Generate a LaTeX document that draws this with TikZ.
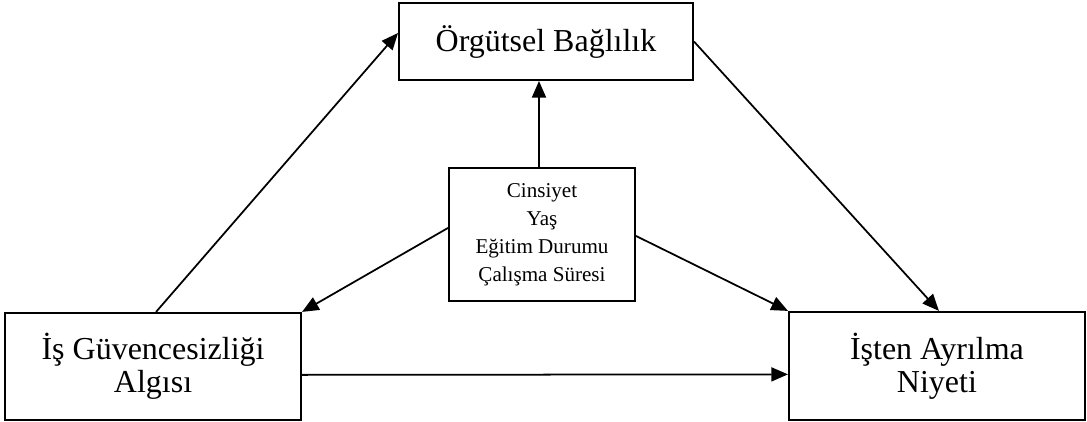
\documentclass[tikz,border=0pt]{standalone}
\usepackage{fontspec}
\setmainfont{Liberation Serif}
\usepackage{tikz}
\usetikzlibrary{positioning,arrows.meta}

\tikzset{
  kutu/.style={draw, line width=1.1pt, align=center, text centered, inner sep=2pt},
  buyuk/.style={kutu, minimum width=5.92cm, font=\fontsize{18.2}{18.8}\selectfont},
  kucuk/.style={kutu, minimum width=3.72cm, minimum height=2.66cm, font=\fontsize{12}{15.9}\selectfont},
  ok/.style={-{Triangle[length=9.5pt,width=8pt]}, line width=1pt}
}

\begin{document}
\begin{tikzpicture}
\useasboundingbox (-10.92,0.83) rectangle (10.82,-7.59);
% nodes %

\node[buyuk, minimum width=5.88cm, minimum height=1.54cm] (bag) at (0,0) {Örgütsel Bağlılık};
\node[kucuk, below = 1.72cm of bag, xshift=-0.08cm] (kontrol) {Cinsiyet\\Yaş\\Eğitim Durumu\\Çalışma Süresi};
\node[buyuk, minimum height=2.14cm, below left = 0.2cm and 2.92cm of kontrol] (guv) {İş Güvencesizliği\\Algısı};
\node[buyuk, minimum height=2.16cm, below right = 0.18cm and 3.04cm of kontrol] (ayr) {İşten Ayrılma\\Niyeti};

% edges %
\draw[ok] ([xshift=0.06cm]guv.north) -- ([yshift=0.17cm]bag.west);
\draw[ok] ([yshift=0.13cm]kontrol.west) -- (guv.north east);
\draw[ok] ([xshift=-0.06cm]kontrol.north) -- ([xshift=-0.06cm]kontrol.north |- bag.south);
\draw[ok] (bag.east) -- ([xshift=0.04cm]ayr.north);
\draw[ok] ([yshift=-0.03cm]kontrol.east) -- (ayr.north west);
\draw[ok] ([yshift=-0.17cm]guv.east) -- ([yshift=-0.17cm]ayr.west);

\end{tikzpicture}
\end{document}
